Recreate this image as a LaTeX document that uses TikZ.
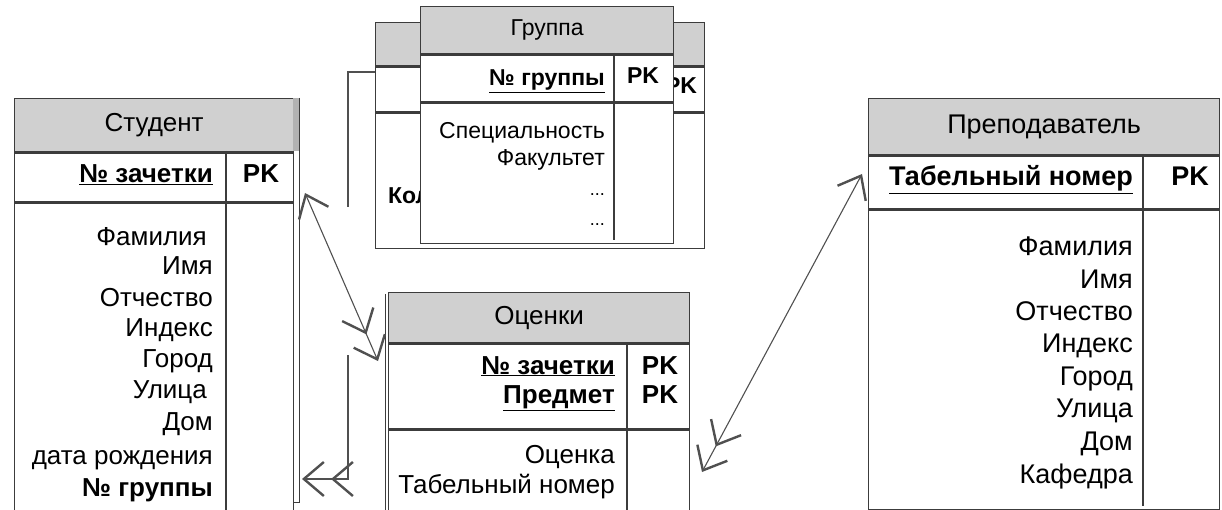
\documentclass[tikz,border=0pt]{standalone}
\usepackage{fontspec}
\setmainfont{Liberation Sans}
\usetikzlibrary{arrows.meta, calc}
\definecolor{hdrgray}{HTML}{D0D0D0}
\definecolor{edge}{HTML}{3C3C3C}
\definecolor{link}{HTML}{505050}
\tikzset{
  onetip/.tip={Straight Barb[length=20pt,width=32pt,line width=2.4pt]},
  manytip/.tip={Straight Barb[length=20pt,width=34pt,line width=2.4pt,sep=6pt] Straight Barb[length=20pt,width=34pt,line width=2.4pt]},
}

\begin{document}
\begin{tikzpicture}[x=1pt, y=-1pt,
    every node/.style={inner sep=0pt},
    hdr/.style={draw=edge, line width=1.3pt, fill=hdrgray, anchor=north west, font=\fontsize{26}{30}\selectfont},
    cell/.style={draw=edge, line width=1.3pt, fill=white, anchor=north west},
    fld/.style={anchor=east, text height=18pt, text depth=6pt, font=\fontsize{26}{30}\selectfont},
    keyfld/.style={fld, font=\fontsize{26}{30}\selectfont\bfseries},
    pk/.style={text height=18pt, text depth=6pt, font=\fontsize{26}{30}\selectfont\bfseries},
    small/.style={font=\fontsize{23}{27}\selectfont},
    smallkey/.style={font=\fontsize{23}{27}\selectfont\bfseries},
    big/.style={font=\fontsize{27}{31}\selectfont},
    bigkey/.style={font=\fontsize{27}{31}\selectfont\bfseries},
    sepline/.style={draw=edge, line width=1.3pt},
    rel/.style={draw=link, line width=1.1pt},
  ]
  \useasboundingbox (0,0) rectangle (1222,510);
  \clip (0,0) rectangle (1222,510);

  % Student
  \node[hdr, minimum width=279pt, minimum height=53pt] (stud-h) at (14,98) {Студент};
  \node[cell, minimum width=279pt, minimum height=49pt] (stud-k) at (stud-h.south west) {};
  \node[cell, minimum width=279pt, minimum height=330pt] (stud-b) at (stud-k.south west) {};
  \draw[sepline] (226,151) -- (226,530);
  \fill[gray!60] (293,98) rectangle (299,151);
  \draw[draw=edge, line width=1pt] (299,98) -- (299,502) -- (293,502);
  \node[keyfld] (stud-id) at (213,177) {\underline{№ зачетки}};
  \node[pk] (stud-pk) at (261,177) {PK};
  \node[fld] (stud-a1) at (207,240) {Фамилия};
  \node[fld] (stud-a2) at (213,269) {Имя};
  \node[fld] (stud-a3) at (213,300) {Отчество};
  \node[fld] (stud-a4) at (213,330) {Индекс};
  \node[fld] (stud-a5) at (213,361) {Город};
  \node[fld] (stud-a6) at (207,392) {Улица};
  \node[fld] (stud-a7) at (213,424) {Дом};
  \node[fld] (stud-a8) at (213,458) {дата рождения};
  \node[keyfld] (stud-a9) at (213,490) {№ группы};

  % Group (back copy)
  \node[hdr, minimum width=329pt, minimum height=43pt] (grp2-h) at (375,22) {};
  \node[cell, minimum width=329pt, minimum height=45pt] (grp2-k) at (grp2-h.south west) {};
  \node[cell, minimum width=329pt, minimum height=135pt] (grp2-b) at (grp2-k.south west) {};
  \node[pk, smallkey] (grp2-pk) at (681,88) {PK};
  \node[keyfld, smallkey, anchor=west] (grp2-a1) at (388,198) {Кол};

  % Group
  \node[hdr, small, minimum width=253pt, minimum height=47pt] (grp-h) at (420,6) {Группа};
  \node[cell, minimum width=253pt, minimum height=47pt] (grp-k) at (grp-h.south west) {};
  \node[cell, minimum width=253pt, minimum height=140pt] (grp-b) at (grp-k.south west) {};
  \draw[sepline] (614,53) -- (614,240);
  \node[keyfld, smallkey] (grp-id) at (605,80) {\underline{№ группы}};
  \node[pk, smallkey] (grp-pk) at (643,78) {PK};
  \node[fld, small] (grp-a1) at (605,133) {Специальность};
  \node[fld, small] (grp-a2) at (605,160) {Факультет};
  \node[fld, font=\fontsize{18}{20}\selectfont] (grp-a3) at (605,190) {...};
  \node[fld, font=\fontsize{18}{20}\selectfont] (grp-a4) at (605,220) {...};

  % Marks
  \node[hdr, minimum width=301pt, minimum height=50pt] (mark-h) at (388,292) {Оценки};
  \node[cell, minimum width=301pt, minimum height=85pt] (mark-k) at (mark-h.south west) {};
  \node[cell, minimum width=301pt, minimum height=100pt] (mark-b) at (mark-k.south west) {};
  \draw[sepline] (627,342) -- (627,530);
  \draw[draw=edge, line width=0.8pt] (385,294) -- (385,510);
  \node[keyfld] (mark-id) at (615,368) {\underline{№ зачетки}};
  \node[keyfld] (mark-sb) at (615,397) {\underline{Предмет}};
  \node[pk] (mark-pk1) at (660,368) {PK};
  \node[pk] (mark-pk2) at (660,397) {PK};
  \node[fld] (mark-a1) at (615,457) {Оценка};
  \node[fld] (mark-a2) at (615,487) {Табельный номер};

  % Teacher
  \node[hdr, big, minimum width=351pt, minimum height=56pt] (tch-h) at (868,98) {Преподаватель};
  \node[cell, minimum width=351pt, minimum height=53pt] (tch-k) at (tch-h.south west) {};
  \node[cell, minimum width=351pt, minimum height=299pt] (tch-b) at (tch-k.south west) {};
  \draw[sepline] (1143,154) -- (1143,506);
  \node[keyfld, bigkey] (tch-id) at (1133,180) {\underline{Табельный номер}};
  \node[pk, bigkey] (tch-pk) at (1190,180) {PK};
  \node[fld, big] (tch-a1) at (1133,250) {Фамилия};
  \node[fld, big] (tch-a2) at (1133,282) {Имя};
  \node[fld, big] (tch-a3) at (1133,314) {Отчество};
  \node[fld, big] (tch-a4) at (1133,346) {Индекс};
  \node[fld, big] (tch-a5) at (1133,379) {Город};
  \node[fld, big] (tch-a6) at (1133,411) {Улица};
  \node[fld, big] (tch-a7) at (1133,444) {Дом};
  \node[fld, big] (tch-a8) at (1133,477) {Кафедра};

  % links
  \coordinate (grp-out) at (375,72);
  \coordinate (grp-gap1) at (348,207);
  \coordinate (grp-gap2) at (348,355);
  \coordinate (stud-in) at (302,479);
  \coordinate (stud-out) at (305,193);
  \coordinate (mark-in) at (378,361);
  \coordinate (mark-out) at (702,472);
  \coordinate (tch-in) at (862,174);
  \draw[rel] (grp-out) -| (grp-gap1);
  \draw[rel, -{manytip}] (grp-gap2) |- (stud-in);
  \draw[rel, {onetip}-{manytip}] (stud-out) -- (mark-in);
  \draw[rel, {manytip}-{onetip}] (mark-out) -- (tch-in);
\end{tikzpicture}
\end{document}
